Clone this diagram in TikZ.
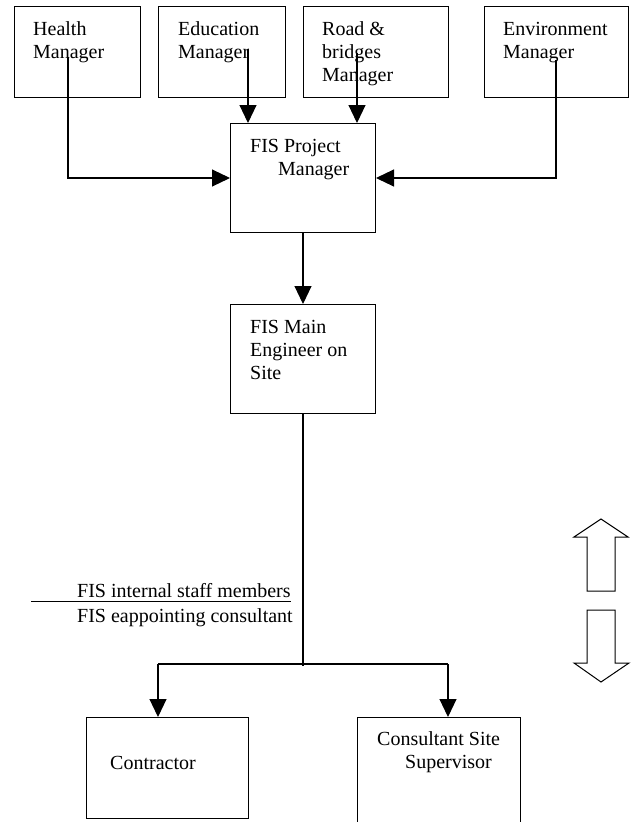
\documentclass[tikz,border=0pt]{standalone}
\usepackage{fontspec}
\setmainfont{Liberation Serif}
\usetikzlibrary{positioning,arrows.meta}
\tikzset{>={Triangle[length=18pt,width=17pt]}}

\begin{document}
\begin{tikzpicture}[
    x=1pt, y=-1pt,
    font=\fontsize{20}{23}\selectfont,
    box/.style={draw, line width=1pt, anchor=north west, inner sep=0pt},
    lbl/.style={anchor=base west, align=left, inner sep=0pt},
    link/.style={line width=1.1pt}
]
\useasboundingbox (0,0) rectangle (632,822);

% managers
\node[box, minimum width=126pt, minimum height=91pt] (health) at (14,6) {};
\node[box, minimum width=127pt, minimum height=91pt] (education) at (158,6) {};
\node[box, minimum width=145pt, minimum height=91pt] (road) at (303,6) {};
\node[box, minimum width=144pt, minimum height=91pt] (environment) at (484,6) {};
% base anchor sits on the last line
\node[lbl] (healthtxt) at (33,58) {Health\\Manager};
\node[lbl] (educationtxt) at (178,58) {Education\\Manager};
\node[lbl] (roadtxt) at (322,81) {Road \&\\bridges\\Manager};
\node[lbl] (environmenttxt) at (503,58) {Environment\\Manager};

% FIS staff
\node[box, minimum width=145pt, minimum height=109pt] (project) at (230,123) {};
\node[box, minimum width=145pt, minimum height=109pt] (main) at (230,304) {};
\node[lbl] (projecttxt) at (250,175) {FIS Project\\\hspace*{28pt}Manager};
\node[lbl] (maintxt) at (250,379) {FIS Main\\Engineer on\\Site};

% contractors
\node[box, minimum width=162pt, minimum height=101pt] (contractor) at (86,717) {};
\node[box, minimum width=163pt, minimum height=115pt] (consultant) at (357,717) {};
\node[lbl] (contractortxt) at (110,769) {Contractor};
\node[lbl] (consultanttxt) at (377,768) {Consultant Site\\\hspace*{28pt}Supervisor};

% connectors
\coordinate (hs) at (68,57);
\coordinate (es) at (248,50);
\coordinate (rs) at (357,53);
\coordinate (ens) at (556,60);
\draw[link,->] (hs) |- (project.west);
\draw[link,->] (es) -- (es |- project.north);
\draw[link,->] (rs) -- (rs |- project.north);
\draw[link,->] (ens) |- (project.east);
\draw[link,->] (project) -- (main);

\coordinate (split) at (303,666);
\coordinate (cl) at (158,664);
\coordinate (cr) at (448,664);
\draw[link] (main) -- (split);
\draw[link] (cl) -- (cr);
\draw[link,->] (cl) -- (cl |- contractor.north);
\draw[link,->] (cr) -- (cr |- consultant.north);

% legend
\node[lbl] (staff) at (77,597) {FIS internal staff members};
\node[lbl] (hired) at (77,622) {FIS eappointing consultant};
\coordinate (ul) at (31,601);
\draw[line width=0.9pt] (ul) -- (ul -| staff.east);
\draw[line width=1pt] (601,519) -- (628,537) -- (615,537) -- (615,591)
    -- (587,591) -- (587,537) -- (574,537) -- cycle;
\draw[line width=1pt] (587,610) -- (615,610) -- (615,663) -- (629,663)
    -- (601,682) -- (574,663) -- (587,663) -- cycle;
\end{tikzpicture}
\end{document}
